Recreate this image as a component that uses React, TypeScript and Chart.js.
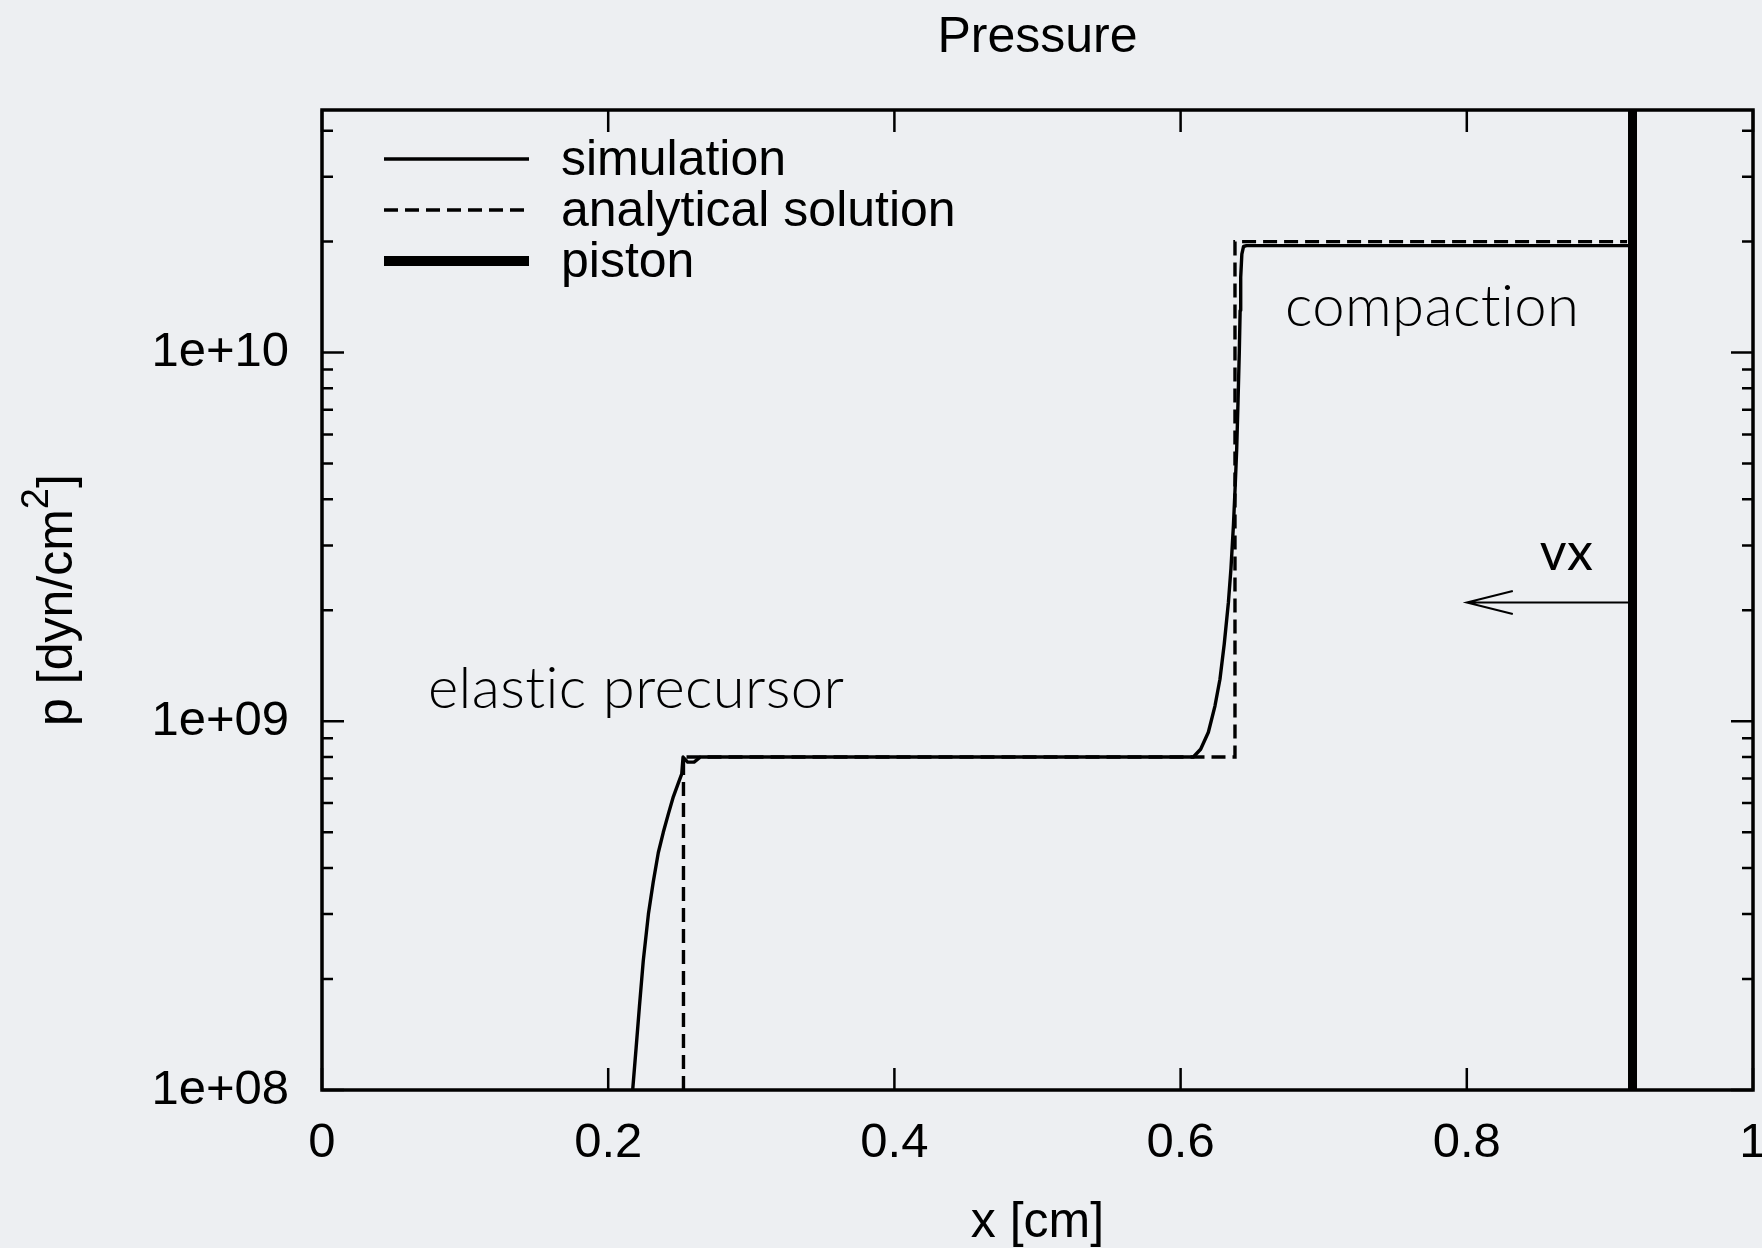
import React, { useEffect, useRef } from "react";
import { Chart, registerables } from "chart.js";

Chart.register(...registerables);

// Axis ticks
const xTickValues = [0, 0.2, 0.4, 0.6, 0.8, 1];
const xTickLabels = ["0", "0.2", "0.4", "0.6", "0.8", "1"];
const yTickValues = [1e8, 1e9, 1e10];
const yTickLabels = ["1e+08", "1e+09", "1e+10"];
const xMin = 0;
const xMax = 1;
const yMin = 1e8;
const yMax = 4.55e10;

// Simulated pressure profile p(x) [dyn/cm^2]
const simX = [
  0.2171, 0.2195, 0.2218, 0.2245, 0.2281, 0.2315, 0.235, 0.2385, 0.242, 0.2455,
  0.249, 0.2514, 0.2523, 0.2555, 0.26, 0.2645, 0.6089, 0.614, 0.6194, 0.624,
  0.6275, 0.6305, 0.6334, 0.6352, 0.6369, 0.6381, 0.6392, 0.6401, 0.641, 0.6416,
  0.642, 0.6428, 0.644, 0.646, 0.9158,
];
const simP = [
  1e8, 1.3e8, 1.68e8, 2.24e8, 3.0e8, 3.67e8, 4.4e8, 5.0e8, 5.6e8, 6.24e8,
  6.8e8, 7.2e8, 8.0e8, 7.75e8, 7.75e8, 8.0e8, 8.0e8, 8.4e8, 9.34e8, 1.1e9,
  1.3e9, 1.62e9, 2.1e9, 2.6e9, 3.39e9, 4.3e9, 5.47e9, 7.3e9, 9.96e9, 1.3e10,
  1.6e10, 1.85e10, 1.94e10, 1.95e10, 1.95e10,
];

// Analytical two-wave solution
const anaX = [0.2526, 0.2526, 0.638, 0.638, 0.912];
const anaP = [1e8, 8.0e8, 8.0e8, 2.0e10, 2.0e10];

// Piston position [cm]
const pistonX = 0.9158;

// Text annotations placed in data coordinates (left edge, baseline)
const noteTexts = ["compaction", "elastic precursor"];
const noteX = [0.673, 0.074];
const noteP = [1.18e10, 1.09e9];

// Piston velocity arrow and its label
const arrowFromX = pistonX;
const arrowToX = 0.8;
const arrowP = 2.1e9;
const arrowLabel = "vx";
const arrowLabelX = 0.851;
const arrowLabelP = 2.58e9;

const HELV = "'Liberation Sans', Arial, Helvetica, sans-serif";
const GILL = "Lato, 'Open Sans', sans-serif";

const pts = (xs: number[], ys: number[]) => xs.map((x, i) => ({ x, y: ys[i] }));

const decorPlugin = {
  id: "decor",
  afterDatasetsDraw(chart: any) {
    const { ctx, chartArea: a, scales } = chart;
    const xs = scales.x;
    const ys = scales.y;
    ctx.save();
    ctx.strokeStyle = "#000";
    ctx.fillStyle = "#000";

    // inward tick marks on all four sides
    ctx.lineWidth = 2.5;
    ctx.beginPath();
    for (const v of xTickValues) {
      const px = xs.getPixelForValue(v);
      ctx.moveTo(px, a.bottom);
      ctx.lineTo(px, a.bottom - 22);
      ctx.moveTo(px, a.top);
      ctx.lineTo(px, a.top + 22);
    }
    for (let d = 8; d <= 10; d++) {
      for (let m = 1; m <= 9; m++) {
        const v = m * Math.pow(10, d);
        if (v < yMin || v > yMax) continue;
        const py = ys.getPixelForValue(v);
        const len = m === 1 ? 22 : 11;
        ctx.moveTo(a.left, py);
        ctx.lineTo(a.left + len, py);
        ctx.moveTo(a.right, py);
        ctx.lineTo(a.right - len, py);
      }
    }
    ctx.stroke();

    // frame
    ctx.lineWidth = 3.5;
    ctx.strokeRect(a.left, a.top, a.right - a.left, a.bottom - a.top);

    // title and axis titles
    const cx = (a.left + a.right) / 2;
    ctx.font = `50px ${HELV}`;
    ctx.textAlign = "center";
    ctx.textBaseline = "alphabetic";
    ctx.fillText("Pressure", cx, 52);
    ctx.fillText("x [cm]", cx, 1237);

    ctx.save();
    ctx.translate(72, (a.top + a.bottom) / 2);
    ctx.rotate(-Math.PI / 2);
    ctx.textAlign = "left";
    const main = "p [dyn/cm";
    ctx.font = `50px ${HELV}`;
    const w1 = ctx.measureText(main).width;
    const w3 = ctx.measureText("]").width;
    ctx.font = `38px ${HELV}`;
    const w2 = ctx.measureText("2").width;
    let sx = -(w1 + w2 + w3) / 2;
    ctx.font = `50px ${HELV}`;
    ctx.fillText(main, sx, 0);
    sx += w1;
    ctx.font = `38px ${HELV}`;
    ctx.fillText("2", sx, -24);
    sx += w2;
    ctx.font = `50px ${HELV}`;
    ctx.fillText("]", sx, 0);
    ctx.restore();

    // legend built from the datasets
    const rowY = [159, 210, 261];
    chart.data.datasets.forEach((ds: any, i: number) => {
      const y = rowY[i];
      ctx.save();
      ctx.lineWidth = ds.legendWidth ?? ds.borderWidth;
      ctx.setLineDash(ds.borderDash || []);
      ctx.beginPath();
      ctx.moveTo(384, y);
      ctx.lineTo(529, y);
      ctx.stroke();
      ctx.restore();
      ctx.font = `50px ${HELV}`;
      ctx.textAlign = "left";
      ctx.fillText(ds.label, 561, y + 16);
    });

    // annotations
    ctx.save();
    ctx.font = `300 58px ${GILL}`;
    (ctx as any).letterSpacing = "0.4px";
    ctx.textAlign = "left";
    noteTexts.forEach((t, i) => {
      ctx.fillText(t, xs.getPixelForValue(noteX[i]), ys.getPixelForValue(noteP[i]));
    });
    ctx.font = `400 52px ${GILL}`;
    ctx.fillText(arrowLabel, xs.getPixelForValue(arrowLabelX), ys.getPixelForValue(arrowLabelP));
    ctx.restore();

    // arrow with open head
    const ax0 = xs.getPixelForValue(arrowFromX);
    const ax1 = xs.getPixelForValue(arrowToX);
    const ay = ys.getPixelForValue(arrowP);
    ctx.lineWidth = 2;
    ctx.beginPath();
    ctx.moveTo(ax0, ay);
    ctx.lineTo(ax1, ay);
    ctx.moveTo(ax1 + 46, ay - 11.5);
    ctx.lineTo(ax1, ay);
    ctx.lineTo(ax1 + 46, ay + 11.5);
    ctx.stroke();

    ctx.restore();
  },
};

export default function App() {
  const ref = useRef<HTMLCanvasElement>(null);

  useEffect(() => {
    if (!ref.current) return;
    const chart = new Chart(ref.current, {
      type: "scatter",
      data: {
        datasets: [
          {
            label: "simulation",
            data: pts(simX, simP),
            showLine: true,
            borderColor: "#000",
            borderWidth: 3.4,
            borderJoinStyle: "round",
            pointRadius: 0,
            clip: 0,
          } as any,
          {
            label: "analytical solution",
            data: pts(anaX, anaP),
            showLine: true,
            borderColor: "#000",
            borderWidth: 3.4,
            borderDash: [14, 7],
            pointRadius: 0,
            clip: 0,
          } as any,
          {
            label: "piston",
            data: pts([pistonX, pistonX], [yMin, yMax]),
            showLine: true,
            borderColor: "#000",
            borderWidth: 9,
            legendWidth: 10,
            pointRadius: 0,
            clip: 0,
          } as any,
        ],
      },
      options: {
        responsive: false,
        animation: false,
        devicePixelRatio: 1,
        layout: { padding: { top: 110, right: 9, bottom: 0, left: 0 } },
        plugins: {
          legend: { display: false },
          tooltip: { enabled: false },
          title: { display: false },
        },
        scales: {
          x: {
            type: "linear",
            min: xMin,
            max: xMax,
            grid: { display: false, drawTicks: false },
            border: { display: false },
            afterBuildTicks: (s: any) => {
              s.ticks = xTickValues.map((v) => ({ value: v }));
            },
            afterFit: (s: any) => {
              s.height = 158;
              s.paddingLeft = 0;
              s.paddingRight = 0;
            },
            ticks: {
              autoSkip: false,
              maxRotation: 0,
              padding: 24,
              color: "#000",
              font: { family: HELV, size: 49 },
              callback: (_v: any, i: number) => xTickLabels[i],
            },
          },
          y: {
            type: "logarithmic",
            min: yMin,
            max: yMax,
            grid: { display: false, drawTicks: false },
            border: { display: false },
            afterBuildTicks: (s: any) => {
              s.ticks = yTickValues.map((v) => ({ value: v }));
            },
            afterFit: (s: any) => {
              s.width = 322;
              s.paddingTop = 0;
              s.paddingBottom = 0;
            },
            ticks: {
              autoSkip: false,
              padding: 33,
              color: "#000",
              font: { family: HELV, size: 49 },
              callback: (_v: any, i: number) => yTickLabels[i],
            },
          },
        },
      },
      plugins: [decorPlugin],
    });
    return () => chart.destroy();
  }, []);

  return (
    <div
      style={{
        position: "fixed",
        left: 0,
        top: 0,
        width: 1762,
        height: 1248,
        background: "#edeff2",
        overflow: "hidden",
      }}
    >
      <canvas ref={ref} width={1762} height={1248} style={{ display: "block" }} />
    </div>
  );
}
